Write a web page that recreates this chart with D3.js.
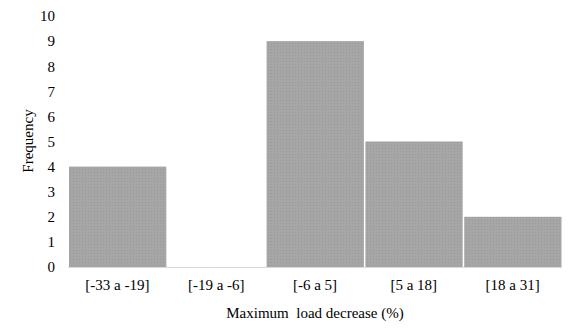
<!DOCTYPE html>
<html><head><meta charset="utf-8">
<script src="https://cdn.jsdelivr.net/npm/d3@7"></script>
<style>body{margin:0;background:#fff}svg{display:block}</style>
</head><body>
<script>
const categories = ["[-33 a -19]", "[-19 a -6]", "[-6 a 5]", "[5 a 18]", "[18 a 31]"];
const frequencies = [4, 0, 9, 5, 2];
const yTicks = [0,1,2,3,4,5,6,7,8,9,10];
const xTitle = "Maximum  load decrease (%)";
const yTitle = "Frequency";

const FONT = "'Times New Roman', 'Liberation Serif', serif";
const W = 577, H = 334;
const svg = d3.select("body").append("svg").attr("width", W).attr("height", H)
  .style("font-family", FONT);
const defs = svg.append("defs");
const pat = defs.append("pattern").attr("id","dots").attr("patternUnits","userSpaceOnUse").attr("width",3).attr("height",3);
pat.append("rect").attr("width",3).attr("height",3).attr("fill","#a6a6a6");
pat.append("rect").attr("x",1).attr("y",1).attr("width",1).attr("height",1).attr("fill","#999999");

const x = d3.scaleBand().domain(categories).range([68, 562]).paddingInner(0).paddingOuter(0);
const y = d3.scaleLinear().domain([0, 10]).range([267, 16]);

svg.selectAll("rect.bar").data(frequencies).enter().append("rect")
  .attr("class","bar")
  .attr("x", (d,i) => x(categories[i]) + 1)
  .attr("width", x.bandwidth() - 1.5)
  .attr("y", d => y(d))
  .attr("height", d => y(0) - y(d))
  .attr("fill", "url(#dots)");

svg.append("line").attr("x1",68).attr("x2",562).attr("y1",y(0)+0.5).attr("y2",y(0)+0.5)
  .attr("stroke","#d9d9d9").attr("stroke-width",1);

const yAxis = d3.axisLeft(y).tickValues(yTicks).tickSize(0).tickPadding(0).tickFormat(d3.format("d"));
const ya = svg.append("g").attr("transform","translate(55,0)").call(yAxis)
  .attr("font-family", null).style("font-family", FONT);
ya.select(".domain").remove();
ya.selectAll("text").attr("font-size",15).attr("fill","#000");

const xAxis = d3.axisBottom(x).tickSize(0).tickPadding(0);
const xa = svg.append("g").attr("transform","translate(0,279)").call(xAxis)
  .attr("font-family", null).style("font-family", FONT);
xa.select(".domain").remove();
xa.selectAll("text").attr("font-size",15).attr("fill","#000").attr("dy","0.71em");

svg.append("text").attr("x",315).attr("y",318).attr("text-anchor","middle")
  .attr("font-size",15).attr("fill","#000").style("white-space","pre").text(xTitle);
svg.append("text").attr("transform","translate(33,141) rotate(-90)").attr("text-anchor","middle")
  .attr("font-size",15).attr("fill","#000").text(yTitle);
</script>
</body></html>
